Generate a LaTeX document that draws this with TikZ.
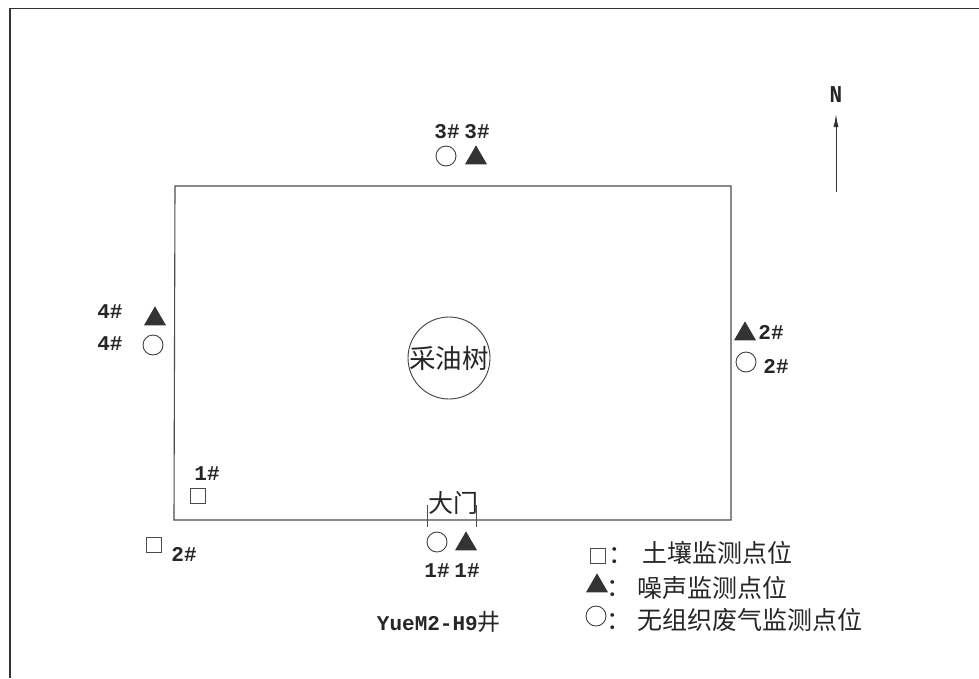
\documentclass[tikz,border=0pt]{standalone}
\usepackage{fontspec}
\setmainfont{Liberation Mono}
\newfontfamily\cjk{Noto Sans CJK SC}
\tikzset{
  x=1pt,y=-1pt,
  lbl/.style={inner sep=0pt,text=black!85,font=\fontsize{21}{23}\selectfont\bfseries},
  cn/.style={inner sep=0pt,text=black!85,font=\cjk\fontsize{25}{28}\selectfont},
  circ/.style={circle,draw=black!75,line width=0.9pt,minimum size=20pt,inner sep=0pt},
  tri/.style={isosceles triangle,isosceles triangle apex angle=60,isosceles triangle stretches,shape border rotate=90,fill=black!80,minimum width=22pt,minimum height=19pt,inner sep=0pt},
  sq/.style={rectangle,draw=black!70,line width=0.8pt,minimum size=15pt,inner sep=0pt},
  wall/.style={draw=black!70,line width=1.1pt}
}
\usetikzlibrary{shapes.geometric,arrows.meta}
\begin{document}
\begin{tikzpicture}
\useasboundingbox (0,0) rectangle (979,678);
\fill[white] (0,0) rectangle (979,678);
\coordinate (fa) at (10,678);
\coordinate (fb) at (10,8.5);
\coordinate (fc) at (979,8.5);
\draw[black!80,line width=1.6pt] (fa) -- (fb) -- (fc);
% site
\coordinate (s1) at (175,186);
\coordinate (s2) at (731,186);
\coordinate (s3) at (731,520);
\coordinate (s4) at (174,520);
\draw[wall] (s1) -- (s2) -- (s3) -- (s4) -- cycle;
% tree
\node[circle,draw=black!75,line width=0.9pt,minimum size=82pt,inner sep=0pt] (tree) at (449,358) {};
\node[cn,font=\cjk\fontsize{26.5}{28}\selectfont] (treet) at (449,358) {采油树};
% gate
\coordinate (g1) at (427,505);
\coordinate (g1b) at (427,527);
\coordinate (g2) at (476,505);
\coordinate (g2b) at (476,527);
\draw[black!70,line width=0.7pt] (g1) -- (g1b) (g2) -- (g2b);
\node[cn] (gate) at (453,503) {大门};
% north
\node[lbl,yscale=1.15] (north) at (836,95) {N};
\coordinate (nb) at (836,192);
\coordinate (nt) at (836,114);
\draw[black!80,line width=1pt,-{Latex[length=13pt,width=5pt]}] (nb) -- (nt);
% north points
\node[lbl] (l3a) at (447,132) {3\#};
\node[lbl] (l3b) at (477,132) {3\#};
\node[circ] (c3) at (446,156) {};
\node[tri] (t3) at (476,158) {};
% west
\node[lbl] (l4a) at (110,312) {4\#};
\node[lbl] (l4b) at (110,344) {4\#};
\node[tri] (t4) at (155,319) {};
\node[circ] (c4) at (153,345) {};
% east
\node[tri] (t2) at (745,334) {};
\node[lbl] (l2a) at (771,332) {2\#};
\node[circ] (c2) at (746,362) {};
\node[lbl] (l2b) at (776,366) {2\#};
% south
\node[circ] (c1) at (437,542) {};
\node[tri] (t1) at (466,544) {};
\node[lbl] (l1a) at (437,571) {1\#};
\node[lbl] (l1b) at (467,571) {1\#};
% soil
\node[lbl] (s1l) at (207,474) {1\#};
\node[sq] (q1) at (198,496) {};
\node[sq] (q2) at (154,545) {};
\node[lbl] (s2l) at (184,554) {2\#};
% title
\node[lbl,anchor=east] (name) at (478,624) {YueM2-H9};
\node[cn,font=\cjk\fontsize{23}{26}\selectfont,anchor=west] (namec) at (477,622) {井};
% legend
\node[sq] (kq) at (598,556) {};
\node[cn] (kqc) at (621,556) {：};
\node[cn,anchor=west] (kqt) at (642,553) {土壤监测点位};
\node[tri] (kt) at (597,586) {};
\node[cn] (ktc) at (619,589) {：};
\node[cn,anchor=west] (ktt) at (637,588) {噪声监测点位};
\node[circ] (kc) at (596,616) {};
\node[cn] (kcc) at (619,622) {：};
\node[cn,anchor=west] (kct) at (637,620) {无组织废气监测点位};
\end{tikzpicture}
\end{document}
